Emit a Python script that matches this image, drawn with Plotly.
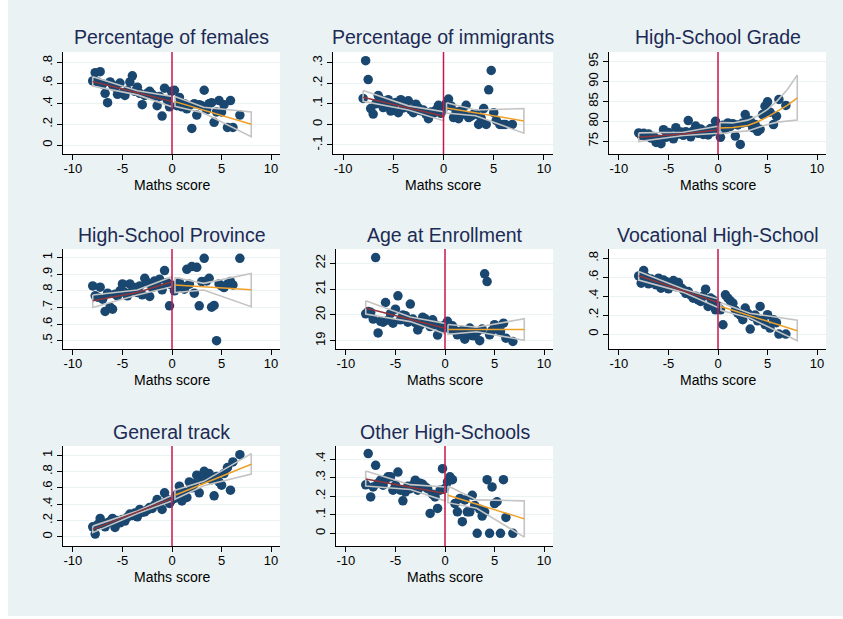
import plotly.graph_objects as go

W, H = 843, 619

# ---- running variable: bin midpoints of the maths score ----
X_LEFT = [-8.0, -7.75, -7.5, -7.25, -7.0, -6.75, -6.5, -6.25, -6.0, -5.75, -5.5,
          -5.25, -5.0, -4.75, -4.5, -4.25, -4.0, -3.75, -3.5, -3.25, -3.0, -2.75,
          -2.5, -2.25, -2.0, -1.75, -1.5, -1.25, -1.0, -0.75, -0.5, -0.25, -0.05]
X_RIGHT = [0.25, 0.5, 0.75, 1.0, 1.25, 1.5, 1.75, 2.0, 2.25, 2.5, 2.75, 3.0, 3.25,
           3.5, 3.75, 4.0, 4.25, 4.5, 4.75, 5.0, 5.25, 5.6, 5.9, 6.15, 6.85]

# evaluation points of the fitted lines and their confidence bands
FIT_X_LEFT = [-8.0, -3.5, 0.0]
FIT_X_RIGHT = [0.3, 3.2, 8.0]
FIT_X_RIGHT_QUAD = [0.2, 1.5, 3.0, 4.0, 5.0, 6.0, 7.0, 8.0]

X_TICKS = [-10, -5, 0, 5, 10]
X_TICK_LABELS = ["-10", "-5", "0", "5", "10"]

# ---- Percentage of females ----
females_left = [0.62, 0.70, 0.61, 0.71, 0.59, 0.50, 0.41, 0.61, 0.58, 0.56, 0.49,
                0.60, 0.50, 0.48, 0.53, 0.61, 0.67, 0.52, 0.56, 0.50, 0.39, 0.48,
                0.50, 0.52, 0.49, 0.47, 0.38, 0.47, 0.28, 0.55, 0.44, 0.37, 0.52]
females_right = [0.53, 0.38, 0.46, 0.37, 0.40, 0.35, 0.38, 0.16, 0.40, 0.29, 0.39,
                 0.38, 0.53, 0.34, 0.40, 0.41, 0.22, 0.32, 0.43, 0.32, 0.39, 0.17,
                 0.43, 0.17, 0.29]
females_fit_l = [0.615, 0.505, 0.42]
females_lo_l = [0.57, 0.485, 0.37]
females_hi_l = [0.66, 0.525, 0.47]
females_fit_r = [0.42, 0.337, 0.20]
females_lo_r = [0.375, 0.31, 0.08]
females_hi_r = [0.47, 0.365, 0.32]

# ---- Percentage of immigrants ----
immig_left = [0.126, 0.31, 0.218, 0.077, 0.05, 0.10, 0.14, 0.12, 0.082, 0.10, 0.12,
              0.065, 0.09, 0.106, 0.057, 0.12, 0.08, 0.10, 0.115, 0.07, 0.057, 0.098,
              0.08, 0.066, 0.07, 0.05, 0.028, 0.06, 0.055, 0.07, 0.093, 0.054, 0.074]
immig_right = [0.10, 0.123, 0.09, 0.033, 0.06, 0.028, 0.066, 0.05, 0.093, 0.033,
               0.04, 0.05, 0.05, 0.0, 0.03, 0.077, 0.0, 0.168, 0.262, 0.057, 0.02,
               0.0, 0.0, 0.0, 0.0]
immig_fit_l = [0.132, 0.080, 0.04]
immig_lo_l = [0.112, 0.07, 0.018]
immig_hi_l = [0.165, 0.09, 0.062]
immig_fit_r = [0.08, 0.056, 0.017]
immig_lo_r = [0.055, 0.042, -0.043]
immig_hi_r = [0.105, 0.07, 0.077]

# ---- High-School Grade ----
grade_left = [77.1, 76.5, 77.0, 76.3, 76.8, 75.8, 76.2, 74.7, 75.5, 74.4, 77.9,
              76.0, 77.2, 76.2, 75.6, 78.4, 76.8, 77.3, 76.5, 77.4, 80.2, 76.1,
              77.6, 78.8, 77.0, 78.1, 76.7, 77.5, 76.6, 78.2, 77.4, 80.0, 78.5]
grade_right = [76.0, 79.0, 78.1, 79.6, 78.7, 79.4, 76.3, 79.1, 74.2, 79.6, 81.7,
               79.8, 80.2, 78.4, 79.2, 77.5, 78.0, 81.7, 83.8, 84.9, 82.3, 79.2,
               81.3, 85.5, 84.0]
grade_fit_l = [76.0, 76.85, 77.9]
grade_lo_l = [74.9, 76.45, 77.0]
grade_hi_l = [77.1, 77.25, 78.8]
grade_fit_r = [78.3, 78.45, 78.95, 79.9, 81.1, 82.5, 84.0, 85.9]
grade_lo_r = [76.9, 77.3, 77.6, 78.4, 79.2, 79.8, 80.1, 80.3]
grade_hi_r = [79.7, 79.6, 80.3, 81.4, 83.0, 85.2, 88.0, 91.6]

# ---- High-School Province ----
prov_left = [0.83, 0.77, 0.762, 0.822, 0.75, 0.676, 0.786, 0.702, 0.69, 0.78, 0.77,
             0.80, 0.842, 0.79, 0.77, 0.842, 0.80, 0.82, 0.79, 0.83, 0.776, 0.876,
             0.85, 0.766, 0.82, 0.86, 0.83, 0.87, 0.806, 0.922, 0.85, 0.71, 0.836]
prov_right = [0.80, 0.82, 0.85, 0.83, 0.81, 0.93, 0.84, 0.946, 0.786, 0.942, 0.71,
              0.856, 0.996, 0.86, 0.876, 0.702, 0.712, 0.5, 0.842, 0.83, 0.82, 0.84,
              0.856, 0.836, 0.996]
prov_fit_l = [0.74, 0.79, 0.855]
prov_lo_l = [0.70, 0.775, 0.825]
prov_hi_l = [0.775, 0.805, 0.885]
prov_fit_r = [0.835, 0.824, 0.806]
prov_lo_r = [0.79, 0.805, 0.705]
prov_hi_r = [0.88, 0.845, 0.905]

# ---- Age at Enrollment ----
age_left = [20.04, 20.13, 20.10, 19.84, 22.22, 19.30, 19.75, 19.72, 20.48, 19.80,
            20.05, 19.68, 20.22, 20.74, 19.81, 20.00, 19.97, 19.72, 20.42, 19.84,
            19.70, 19.42, 19.60, 19.91, 19.85, 19.68, 19.55, 19.81, 19.62, 19.22,
            19.55, 19.48, 19.60]
age_right = [19.75, 19.45, 19.58, 19.40, 19.23, 19.35, 19.40, 19.06, 19.30, 19.49,
             19.20, 19.19, 19.35, 19.00, 19.45, 21.59, 21.29, 19.23, 19.40, 19.62,
             19.50, 19.35, 19.68, 19.10, 18.97]
age_fit_l = [20.27, 19.83, 19.48]
age_lo_l = [20.03, 19.74, 19.27]
age_hi_l = [20.55, 19.92, 19.67]
age_fit_r = [19.43, 19.43, 19.43]
age_lo_r = [19.25, 19.35, 19.02]
age_hi_r = [19.63, 19.52, 19.85]

# ---- Vocational High-School ----
voc_left = [0.614, 0.537, 0.67, 0.60, 0.53, 0.58, 0.55, 0.52, 0.59, 0.484, 0.57,
            0.554, 0.477, 0.52, 0.565, 0.50, 0.544, 0.49, 0.467, 0.43, 0.449, 0.41,
            0.379, 0.40, 0.36, 0.344, 0.40, 0.474, 0.291, 0.38, 0.361, 0.256, 0.30]
voc_right = [0.256, 0.098, 0.414, 0.379, 0.35, 0.326, 0.25, 0.221, 0.20, 0.151,
             0.274, 0.22, 0.053, 0.186, 0.20, 0.14, 0.291, 0.151, 0.10, 0.204,
             0.063, 0.151, 0.12, 0.0, 0.0]
voc_fit_l = [0.615, 0.456, 0.333]
voc_lo_l = [0.57, 0.44, 0.28]
voc_hi_l = [0.66, 0.475, 0.37]
voc_fit_r = [0.29, 0.194, 0.035]
voc_lo_r = [0.25, 0.17, -0.07]
voc_hi_r = [0.33, 0.22, 0.145]

# ---- General track ----
gen_left = [0.122, 0.033, 0.15, 0.224, 0.16, 0.122, 0.17, 0.19, 0.224, 0.114, 0.20,
            0.17, 0.212, 0.192, 0.24, 0.278, 0.26, 0.29, 0.245, 0.335, 0.30, 0.306,
            0.33, 0.36, 0.347, 0.39, 0.457, 0.40, 0.335, 0.539, 0.46, 0.408, 0.45]
gen_right = [0.47, 0.52, 0.62, 0.44, 0.55, 0.482, 0.673, 0.60, 0.65, 0.755, 0.539,
             0.70, 0.804, 0.72, 0.776, 0.70, 0.502, 0.74, 0.673, 0.633, 0.776,
             0.849, 0.571, 0.918, 1.008]
gen_fit_l = [0.09, 0.30, 0.47]
gen_lo_l = [0.05, 0.285, 0.44]
gen_hi_l = [0.13, 0.315, 0.51]
gen_fit_r = [0.51, 0.653, 0.89]
gen_lo_r = [0.46, 0.625, 0.77]
gen_hi_r = [0.57, 0.68, 1.02]

# ---- Other High-Schools ----
other_left = [0.261, 0.429, 0.196, 0.25, 0.366, 0.27, 0.286, 0.259, 0.29, 0.304,
              0.304, 0.232, 0.26, 0.33, 0.232, 0.175, 0.223, 0.254, 0.24, 0.26,
              0.286, 0.232, 0.27, 0.264, 0.25, 0.24, 0.107, 0.21, 0.196, 0.134,
              0.232, 0.348, 0.24]
other_right = [0.277, 0.304, 0.289, 0.16, 0.116, 0.188, 0.063, 0.18, 0.116, 0.116,
               0.205, 0.15, 0.0, 0.13, 0.093, 0.116, 0.289, 0.0, 0.25, 0.16, 0.17,
               0.0, 0.289, 0.086, 0.0]
other_fit_l = [0.293, 0.249, 0.215]
other_lo_l = [0.255, 0.236, 0.175]
other_hi_l = [0.335, 0.262, 0.25]
other_fit_r = [0.205, 0.157, 0.078]
other_lo_r = [0.165, 0.135, -0.02]
other_hi_r = [0.255, 0.18, 0.175]

# ---- colours ----
BG = "#EAF2F3"
NAVY = "#1a476f"
MAROON = "#90353b"
ORANGE = "#f0a028"
BAND = "#c4c4c4"
CUTOFF = "#c8174a"
TITLE_C = "#1c2a55"
FONT = "Arial, Liberation Sans, Helvetica, sans-serif"

# panel specification: title, data, y axis, and the plot box in pixels
panels = [
    dict(title="Percentage of females", left=females_left, right=females_right,
         fl=females_fit_l, ll=females_lo_l, hl=females_hi_l,
         fr=females_fit_r, lr=females_lo_r, hr=females_hi_r, fxr=FIT_X_RIGHT,
         yr=[-0.087, 0.90], yt=[0, 0.2, 0.4, 0.6, 0.8], yl=["0", ".2", ".4", ".6", ".8"],
         box=(63, 280, 52, 154)),
    dict(title="Percentage of immigrants", left=immig_left, right=immig_right,
         fl=immig_fit_l, ll=immig_lo_l, hl=immig_hi_l,
         fr=immig_fit_r, lr=immig_lo_r, hr=immig_hi_r, fxr=FIT_X_RIGHT,
         yr=[-0.144, 0.352], yt=[-0.1, 0, 0.1, 0.2, 0.3], yl=["-.1", "0", ".1", ".2", ".3"],
         box=(333, 553, 52, 154)),
    dict(title="High-School Grade", left=grade_left, right=grade_right,
         fl=grade_fit_l, ll=grade_lo_l, hl=grade_hi_l,
         fr=grade_fit_r, lr=grade_lo_r, hr=grade_hi_r, fxr=FIT_X_RIGHT_QUAD,
         yr=[71.8, 97.4], yt=[75, 80, 85, 90, 95], yl=["75", "80", "85", "90", "95"],
         box=(609, 826, 52, 154)),
    dict(title="High-School Province", left=prov_left, right=prov_right,
         fl=prov_fit_l, ll=prov_lo_l, hl=prov_hi_l,
         fr=prov_fit_r, lr=prov_lo_r, hr=prov_hi_r, fxr=FIT_X_RIGHT,
         yr=[0.45, 1.052], yt=[0.5, 0.6, 0.7, 0.8, 0.9, 1.0],
         yl=[".5", ".6", ".7", ".8", ".9", "1"],
         box=(63, 280, 249, 349)),
    dict(title="Age at Enrollment", left=age_left, right=age_right,
         fl=age_fit_l, ll=age_lo_l, hl=age_hi_l,
         fr=age_fit_r, lr=age_lo_r, hr=age_hi_r, fxr=FIT_X_RIGHT,
         yr=[18.68, 22.55], yt=[19, 20, 21, 22], yl=["19", "20", "21", "22"],
         box=(336, 553, 249, 349)),
    dict(title="Vocational High-School", left=voc_left, right=voc_right,
         fl=voc_fit_l, ll=voc_lo_l, hl=voc_hi_l,
         fr=voc_fit_r, lr=voc_lo_r, hr=voc_hi_r, fxr=FIT_X_RIGHT,
         yr=[-0.158, 0.898], yt=[0, 0.2, 0.4, 0.6, 0.8], yl=["0", ".2", ".4", ".6", ".8"],
         box=(609, 826, 249, 349)),
    dict(title="General track", left=gen_left, right=gen_right,
         fl=gen_fit_l, ll=gen_lo_l, hl=gen_hi_l,
         fr=gen_fit_r, lr=gen_lo_r, hr=gen_hi_r, fxr=FIT_X_RIGHT,
         yr=[-0.114, 1.114], yt=[0, 0.2, 0.4, 0.6, 0.8, 1.0],
         yl=["0", ".2", ".4", ".6", ".8", "1"],
         box=(63, 280, 446, 546)),
    dict(title="Other High-Schools", left=other_left, right=other_right,
         fl=other_fit_l, ll=other_lo_l, hl=other_hi_l,
         fr=other_fit_r, lr=other_lo_r, hr=other_hi_r, fxr=FIT_X_RIGHT,
         yr=[-0.068, 0.47], yt=[0, 0.1, 0.2, 0.3, 0.4], yl=["0", ".1", ".2", ".3", ".4"],
         box=(336, 553, 446, 546)),
]

fig = go.Figure()
layout = {}
annotations = []
shapes = []


def band_outline(xs, lo, hi):
    """Closed outline of a confidence band: upper edge, right end, lower edge back."""
    bx = list(xs) + list(xs[::-1]) + [xs[0]]
    by = list(hi) + list(lo[::-1]) + [hi[0]]
    return bx, by


for k, p in enumerate(panels, start=1):
    xa = "x" if k == 1 else f"x{k}"
    ya = "y" if k == 1 else f"y{k}"
    x0, x1, y0, y1 = p["box"]

    common = dict(xaxis=xa, yaxis=ya, showlegend=False, hoverinfo="skip")

    fig.add_trace(go.Scatter(x=X_LEFT + X_RIGHT, y=p["left"] + p["right"],
                             mode="markers",
                             marker=dict(color=NAVY, size=9.5, line=dict(width=0)),
                             **common))

    for fx, fit, lo, hi, col in ((FIT_X_LEFT, p["fl"], p["ll"], p["hl"], MAROON),
                                 (p["fxr"], p["fr"], p["lr"], p["hr"], ORANGE)):
        bx, by = band_outline(fx, lo, hi)
        fig.add_trace(go.Scatter(x=bx, y=by, mode="lines",
                                 line=dict(color=BAND, width=1.6), **common))
        fig.add_trace(go.Scatter(x=fx, y=fit, mode="lines",
                                 line=dict(color=col, width=1.5), **common))

    xkey = "xaxis" if k == 1 else f"xaxis{k}"
    ykey = "yaxis" if k == 1 else f"yaxis{k}"
    layout[xkey] = dict(
        domain=[x0 / W, x1 / W], anchor=ya, range=[-11, 10.9],
        tickmode="array", tickvals=X_TICKS, ticktext=X_TICK_LABELS,
        showline=True, linecolor="black", linewidth=1, mirror=False,
        ticks="outside", ticklen=5, tickwidth=1, tickcolor="black",
        ticklabelstandoff=-3,
        showgrid=False, zeroline=False,
        tickfont=dict(family=FONT, size=13, color="black"),
    )
    layout[ykey] = dict(
        domain=[1 - y1 / H, 1 - y0 / H], anchor=xa, range=p["yr"],
        tickmode="array", tickvals=p["yt"], ticktext=p["yl"], tickangle=-90,
        showline=True, linecolor="black", linewidth=1,
        ticks="outside", ticklen=5, tickwidth=1, tickcolor="black",
        showgrid=True, gridcolor=BG, gridwidth=1, zeroline=False,
        tickfont=dict(family=FONT, size=13, color="black"),
    )

    cx = (x0 + x1) / 2 / W
    annotations.append(dict(text=p["title"], x=cx, y=1 - (y0 - 14.5) / H,
                            xref="paper", yref="paper", showarrow=False,
                            xanchor="center", yanchor="middle",
                            font=dict(family=FONT, size=19.5, color=TITLE_C)))
    annotations.append(dict(text="Maths score", x=cx, y=1 - (y1 + 31) / H,
                            xref="paper", yref="paper", showarrow=False,
                            xanchor="center", yanchor="middle",
                            font=dict(family=FONT, size=14, color="black")))

    # cutoff line at zero
    shapes.append(dict(type="line", xref=xa, yref=f"{ya} domain",
                       x0=0, x1=0, y0=0, y1=1, layer="above",
                       line=dict(color=CUTOFF, width=1.5)))

# white page margins around the graph region
shapes.append(dict(type="rect", xref="paper", yref="paper", x0=0, x1=8 / W,
                   y0=0, y1=1, fillcolor="white", line=dict(width=0), layer="below"))
shapes.append(dict(type="rect", xref="paper", yref="paper", x0=0, x1=1,
                   y0=0, y1=3 / H, fillcolor="white", line=dict(width=0), layer="below"))

fig.update_layout(
    width=W, height=H, margin=dict(l=0, r=0, t=0, b=0),
    paper_bgcolor=BG, plot_bgcolor="white",
    annotations=annotations, shapes=shapes, showlegend=False,
    font=dict(family=FONT),
    **layout,
)

fig.write_html("out.html")
